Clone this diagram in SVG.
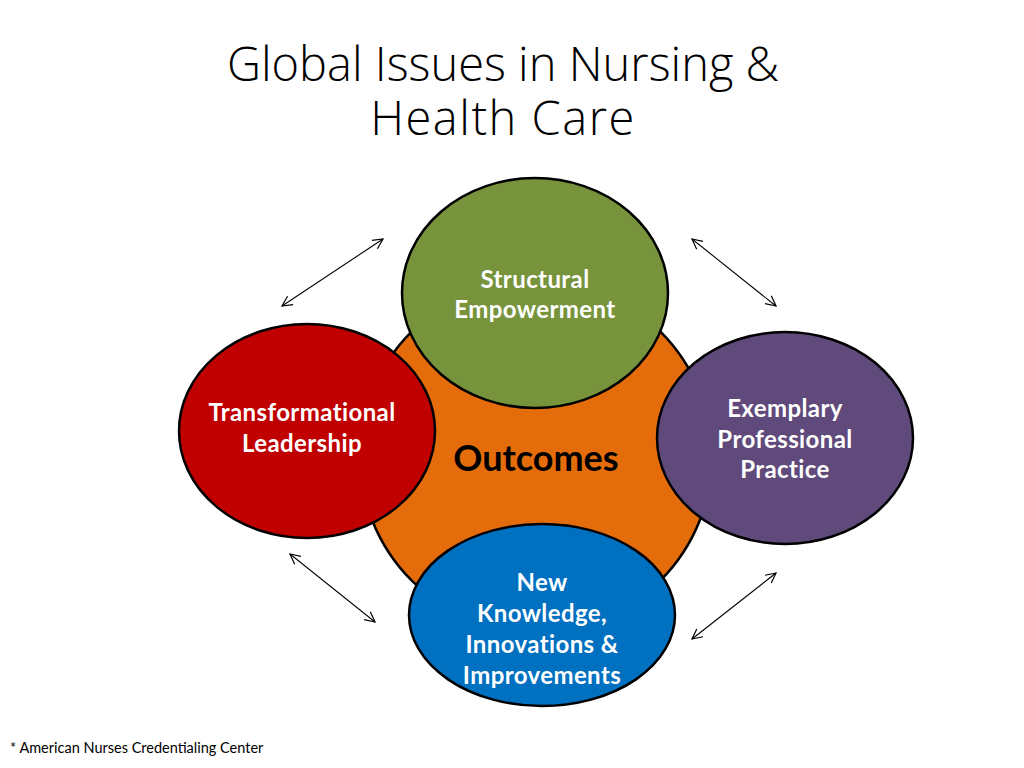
<svg xmlns="http://www.w3.org/2000/svg" width="1024" height="768" viewBox="0 0 1024 768">
<defs>
<marker id="arr" viewBox="0 0 12 12" refX="11" refY="6" markerWidth="12" markerHeight="12" markerUnits="userSpaceOnUse" orient="auto-start-reverse">
<path d="M1,1 L11,6 L1,11" fill="none" stroke="#000" stroke-width="1.2"/>
</marker>
</defs>
<style>
.node{stroke:#000;stroke-width:2.5}
.lbl{font-family:Lato,"Open Sans","Liberation Sans",sans-serif;font-weight:bold;font-size:24px;letter-spacing:0.4px;fill:#fff;text-anchor:middle}
.title{font-family:"Open Sans","Liberation Sans",sans-serif;font-weight:300;font-size:47px;fill:#000;text-anchor:middle}
.conn line{stroke:#000;stroke-width:1.1;marker-start:url(#arr);marker-end:url(#arr)}
</style>
<rect width="1024" height="768" fill="#fff"/>
<g id="title">
<text class="title" x="503" y="81">Global Issues in Nursing &amp;</text>
<text class="title" x="503" y="135" letter-spacing="1.5">Health Care</text>
</g>
<g id="connectors" class="conn">
<line x1="282" y1="306" x2="383" y2="239"/>
<line x1="692" y1="239" x2="776" y2="306"/>
<line x1="290" y1="554" x2="375" y2="622"/>
<line x1="776" y1="573" x2="692" y2="639"/>
</g>
<g id="outcomes">
<circle class="node" cx="536" cy="456" r="176" fill="#E46C0A"/>
<text x="536" y="471" font-family="Lato,'Open Sans','Liberation Sans',sans-serif" font-weight="bold" font-size="36" text-anchor="middle" fill="#000">Outcomes</text>
</g>
<g id="structural">
<ellipse class="node" cx="535" cy="293" rx="133" ry="115" fill="#77933C"/>
<text class="lbl" x="535" y="288">Structural</text>
<text class="lbl" x="535" y="318">Empowerment</text>
</g>
<g id="transformational">
<ellipse class="node" cx="307" cy="431" rx="128" ry="107" fill="#C00000"/>
<text class="lbl" x="302" y="421">Transformational</text>
<text class="lbl" x="302" y="452">Leadership</text>
</g>
<g id="exemplary">
<ellipse class="node" cx="785" cy="438" rx="128" ry="106" fill="#604A7B"/>
<text class="lbl" x="785" y="417">Exemplary</text>
<text class="lbl" x="785" y="448">Professional</text>
<text class="lbl" x="785" y="478">Practice</text>
</g>
<g id="newknowledge">
<ellipse class="node" cx="542" cy="615" rx="133" ry="91" fill="#0070C0"/>
<text class="lbl" x="542" y="591">New</text>
<text class="lbl" x="542" y="622">Knowledge,</text>
<text class="lbl" x="542" y="653">Innovations &amp;</text>
<text class="lbl" x="542" y="684">Improvements</text>
</g>
<text x="10" y="753" font-family="Lato,'Open Sans','Liberation Sans',sans-serif" font-size="14.5" fill="#000">* American Nurses Credentialing Center</text>
</svg>
